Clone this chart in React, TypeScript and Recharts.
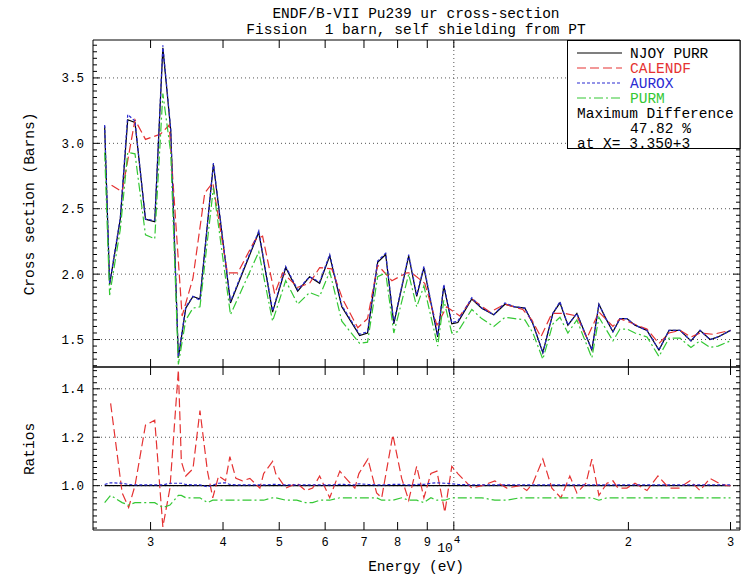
import React from "react";
import { LineChart, Line, XAxis, YAxis, ReferenceLine } from "recharts";

// Energy grid (eV) shared by NJOY PURR, AUROX and PURM
const xsEnergy = [
  2500, 2550, 2660, 2740, 2820, 2940, 3050, 3150, 3250, 3350, 3450, 3550, 3650, 3850, 4120, 4610,
  4870, 5130, 5380, 5640, 5870, 6110, 6410, 6880, 7100, 7390, 7630, 7880, 8360, 8630, 8880, 9380,
  9610, 9920, 10160, 10740, 11170, 11720, 12250, 12740, 13260, 13690, 14240, 14820, 15240, 15730,
  16300, 17300, 17790, 18290, 18810, 19340, 19880, 20530, 21530, 22580, 23500, 24550, 25640, 26580,
  27660, 28550, 30000,
];
const njoyXs = [
  3.13, 1.92, 2.42, 3.18, 3.16, 2.42, 2.4, 3.73, 3.1, 1.36, 1.74, 1.83, 1.81, 2.84, 1.78, 2.32,
  1.71, 2.05, 1.87, 1.98, 1.93, 2.14, 1.75, 1.53, 1.55, 2.09, 2.15, 1.62, 2.14, 1.83, 2.05, 1.52,
  1.91, 1.62, 1.63, 1.81, 1.74, 1.69, 1.77, 1.75, 1.74, 1.62, 1.4, 1.7, 1.78, 1.61,
  1.7, 1.42, 1.77, 1.66, 1.56, 1.66, 1.66, 1.61, 1.57, 1.42, 1.57, 1.57, 1.49, 1.57,
  1.5, 1.52, 1.57,
];
const auroxXs = [
  3.14, 1.93, 2.43, 3.22, 3.17, 2.42, 2.41, 3.75, 3.11, 1.37, 1.75, 1.83, 1.8, 2.85, 1.79, 2.33,
  1.72, 2.06, 1.88, 1.98, 1.94, 2.15, 1.76, 1.54, 1.56, 2.1, 2.16, 1.63, 2.15, 1.84, 2.06, 1.53,
  1.92, 1.63, 1.64, 1.82, 1.74, 1.69, 1.78, 1.75, 1.74, 1.62, 1.4, 1.7, 1.79, 1.61,
  1.7, 1.42, 1.77, 1.66, 1.56, 1.66, 1.66, 1.61, 1.57, 1.42, 1.57, 1.57, 1.49, 1.57,
  1.5, 1.52, 1.57,
];
const purmXs = [
  2.93, 1.84, 2.34, 2.93, 2.92, 2.3, 2.27, 3.38, 2.93, 1.31, 1.65, 1.74, 1.75, 2.66, 1.69, 2.17,
  1.64, 1.95, 1.77, 1.86, 1.83, 2.02, 1.64, 1.47, 1.48, 1.98, 2.01, 1.55, 2.0, 1.75, 1.91, 1.45,
  1.8, 1.55, 1.56, 1.73, 1.66, 1.6, 1.67, 1.66, 1.65, 1.55, 1.35, 1.62, 1.67, 1.55,
  1.65, 1.36, 1.67, 1.58, 1.49, 1.58, 1.58, 1.55, 1.52, 1.37, 1.51, 1.51, 1.44, 1.49,
  1.44, 1.45, 1.49,
];

// CALENDF has its own energy grid
const calendfEnergy = [
  2570, 2680, 2820, 2940, 3120, 3230, 3400, 3550, 3720, 3840, 4070, 4240, 4540, 4680, 4910, 5070,
  5380, 5640, 5870, 6160, 6430, 6830, 7100, 7390, 7820, 8300, 8460, 8910, 9350, 9720, 10240, 10740,
  11540, 12250, 13150, 13630, 14130, 14760, 15540, 16300, 16960, 17790, 18810, 19340, 21530, 22580,
  23500, 24550, 25640, 26580, 27990, 30000,
];
const calendfXs = [
  2.68, 2.63, 3.18, 3.03, 3.07, 3.14, 1.68, 1.97, 2.62, 2.7, 2.01, 2.01, 2.26, 2.29, 1.85, 2.01,
  1.9, 1.93, 2.05, 2.04, 1.81, 1.59, 1.66, 2.07, 1.95, 2.01, 2.01, 1.93, 1.61, 1.75, 1.68, 1.81,
  1.71, 1.77, 1.73, 1.65, 1.52, 1.7, 1.7, 1.68, 1.51, 1.71, 1.6, 1.66, 1.58, 1.47,
  1.55, 1.57, 1.52, 1.55, 1.54, 1.57,
];

// Ratios to NJOY PURR, on the union grid
const ratioEnergy = [
  2500, 2560, 2680, 2750, 2820, 2940, 3050, 3150, 3240, 3350, 3390, 3450, 3550, 3650, 3760, 3840,
  3930, 4040, 4110, 4210, 4320, 4450, 4630, 4700, 4870, 4930, 5130, 5360, 5550, 5710, 5870, 6110,
  6360, 6460, 6750, 6860, 7110, 7360, 7510, 7850, 8130, 8360, 8630, 8880, 9130, 9350, 9650, 9920,
  10160, 10740, 11180, 11770, 12340, 13000, 13360, 13690, 14240, 14760, 15300, 15850, 16300, 16900,
  17300, 17790, 18370, 18810, 19190, 19880, 20530, 21530, 22490, 23500, 24450, 25540, 26580, 27650,
  28660, 29590, 30000,
];
const calendfRatio = [
  null, 1.34, 0.97, 0.91, 1.0, 1.25, 1.27, 0.83, 0.99, 1.4782, 1.1, 1.04, 1.07, 1.31, 1.06, 0.95,
  1.04, 1.02, 1.12, 1.03, 1.02, 1.03, 0.99, 1.05, 1.1, 1.05, 0.99, 1.01, 0.98, 0.99, 1.04, 0.95,
  1.06, 1.04, 0.99, 1.05, 1.11, 0.97, 0.95, 1.21, 1.03, 0.94, 1.08, 0.95, 1.05, 1.06, 0.89, 1.08,
  1.05, 0.99, 1.0, 1.02, 0.99, 1.0, 0.98, 1.01, 1.11, 0.99, 0.95, 1.04, 0.97, 1.01,
  1.11, 0.96, 1.01, 1.02, 0.99, 0.99, 1.01, 0.98, 1.04, 0.99, 0.99, 1.02, 0.98, 1.03,
  1.01, 1.0, 1.0,
];
const auroxRatio = [
  1.005, 1.012, 1.01, 1.005, 1.003, 1.003, 1.003, 1.003, 1.01, 1.01, 1.01, 1.005, 1.003, 1.003, 0.995, 1.003,
  1.01, 1.012, 1.005, 1.003, 1.003, 1.003, 1.003, 1.003, 1.005, 1.005, 1.003, 1.003, 1.003, 1.003, 1.003, 1.003,
  1.005, 1.005, 1.003, 1.008, 1.005, 1.003, 1.003, 1.005, 1.005, 1.003, 1.005, 1.005, 1.01, 1.012, 1.01, 1.008,
  1.005, 1.003, 1.003, 1.003, 1.003, 1.003, 1.003, 1.003, 1.003, 1.003, 1.003, 1.003, 1.003, 1.003,
  1.003, 1.003, 1.003, 1.003, 1.003, 1.003, 1.003, 1.003, 1.003, 1.003, 1.003, 1.003, 1.003, 1.003,
  1.003, 1.003, 1.003,
];
const purmRatio = [
  0.93, 0.96, 0.93, 0.92, 0.93, 0.93, 0.93, 0.91, 0.92, 0.96, 0.96, 0.95, 0.95, 0.95, 0.93, 0.94,
  0.94, 0.94, 0.94, 0.94, 0.94, 0.94, 0.94, 0.94, 0.95, 0.95, 0.94, 0.94, 0.93, 0.93, 0.94, 0.94,
  0.95, 0.95, 0.95, 0.95, 0.95, 0.95, 0.94, 0.94, 0.95, 0.94, 0.94, 0.93, 0.95, 0.94, 0.94, 0.95,
  0.95, 0.95, 0.95, 0.94, 0.94, 0.95, 0.95, 0.95, 0.95, 0.95, 0.95, 0.95, 0.95, 0.95,
  0.95, 0.94, 0.95, 0.95, 0.95, 0.95, 0.95, 0.95, 0.95, 0.95, 0.95, 0.95, 0.95, 0.95,
  0.95, 0.95, 0.95,
];
const njoyRatioEnergy = [2500, 30000];
const njoyRatio = [1, 1];

// Axis ticks
const energyTicks = [3000, 4000, 5000, 6000, 7000, 8000, 9000, 10000, 20000, 30000];
const energyTickLabels = ["3", "4", "5", "6", "7", "8", "9", "10^4", "2", "3"];
const xsMajorTicks = [1.5, 2.0, 2.5, 3.0, 3.5];
const ratioMajorTicks = [1.0, 1.2, 1.4];

const X_DOMAIN: [number, number] = [2387, 31150];
const XS_DOMAIN: [number, number] = [1.29, 3.79];
const RATIO_DOMAIN: [number, number] = [0.817, 1.49];

const xsMinorTicks = Array.from({ length: 50 }, (_, i) => +(1.3 + i * 0.05).toFixed(3));
const ratioMinorTicks = Array.from({ length: 27 }, (_, i) => +(0.825 + i * 0.025).toFixed(3));

const FONT = "'Liberation Mono', 'DejaVu Sans Mono', monospace";
const RED = "#e53232";
const BLUE = "#2a2ad2";
const GREEN = "#34c834";
const GRID = "#555";

// plot box shared by both panels
const LEFT = 93;
const RIGHT = 740;

type Pt = { e: number; v: number | null };
const pairUp = (energies: number[], values: (number | null)[]): Pt[] =>
  energies.map((e, i) => ({ e, v: values[i] }));

const njoyPts = pairUp(xsEnergy, njoyXs);
const auroxPts = pairUp(xsEnergy, auroxXs);
const purmPts = pairUp(xsEnergy, purmXs);
const calendfPts = pairUp(calendfEnergy, calendfXs);
const calendfRatioPts = pairUp(ratioEnergy, calendfRatio);
const auroxRatioPts = pairUp(ratioEnergy, auroxRatio);
const purmRatioPts = pairUp(ratioEnergy, purmRatio);
const njoyRatioPts = pairUp(njoyRatioEnergy, njoyRatio);

function EnergyTick(props: any) {
  const { x, payload, dir, showLabel, axisY } = props;
  const y = axisY;
  const label = energyTickLabels[energyTicks.indexOf(payload.value)];
  let text = null;
  if (showLabel && label) {
    if (label.includes("^")) {
      const [base, exp] = label.split("^");
      text = (
        <g fontFamily={FONT} fill="#000">
          <text x={x - 1} y={y + 22} fontSize={13} textAnchor="end">{base}</text>
          <text x={x} y={y + 13} fontSize={11} textAnchor="start">{exp}</text>
        </g>
      );
    } else {
      text = (
        <text x={x} y={y + 16} fontSize={12} textAnchor="middle" fontFamily={FONT} fill="#000">
          {label}
        </text>
      );
    }
  }
  return (
    <g>
      <line x1={x} y1={y} x2={x} y2={y + dir * 8} stroke="#000" strokeWidth={1} />
      {text}
    </g>
  );
}

function ValueTick(props: any) {
  const { y, payload, dir, majors, showLabel, axisX } = props;
  const x = axisX;
  const v = payload.value as number;
  const isMajor = majors.some((m: number) => Math.abs(m - v) < 1e-6);
  const len = isMajor ? 7 : 4;
  return (
    <g>
      <line x1={x} y1={y} x2={x + dir * len} y2={y} stroke="#000" strokeWidth={1} />
      {showLabel && isMajor && (
        <text x={x - 9} y={y} dy="0.35em" fontSize={12.5} textAnchor="end" fontFamily={FONT} fill="#000">
          {v.toFixed(1)}
        </text>
      )}
    </g>
  );
}

const axisLine = { stroke: "#000", strokeWidth: 1 };

function energyAxes(top: number, bottom: number, labelBottom: boolean) {
  return [
    <XAxis
      key="b"
      xAxisId="b"
      type="number"
      dataKey="e"
      scale="log"
      domain={X_DOMAIN}
      allowDataOverflow
      ticks={energyTicks}
      interval={0}
      height={1}
      tickSize={0}
      tickMargin={0}
      tickLine={false}
      axisLine={axisLine}
      tick={(p: any) => <EnergyTick {...p} axisY={bottom} dir={-1} showLabel={labelBottom} />}
    />,
    <XAxis
      key="t"
      xAxisId="t"
      orientation="top"
      type="number"
      dataKey="e"
      scale="log"
      domain={X_DOMAIN}
      allowDataOverflow
      ticks={energyTicks}
      interval={0}
      height={1}
      tickSize={0}
      tickMargin={0}
      tickLine={false}
      axisLine={axisLine}
      tick={(p: any) => <EnergyTick {...p} axisY={top} dir={1} showLabel={false} />}
    />,
  ];
}

function valueAxes(domain: [number, number], ticks: number[], majors: number[]) {
  return [
    <YAxis
      key="l"
      yAxisId="l"
      type="number"
      domain={domain}
      allowDataOverflow
      ticks={ticks}
      interval={0}
      width={1}
      tickSize={0}
      tickMargin={0}
      tickLine={false}
      axisLine={axisLine}
      tick={(p: any) => <ValueTick {...p} axisX={LEFT} dir={1} majors={majors} showLabel />}
    />,
    <YAxis
      key="r"
      yAxisId="r"
      orientation="right"
      type="number"
      domain={domain}
      allowDataOverflow
      ticks={ticks}
      interval={0}
      width={1}
      tickSize={0}
      tickMargin={0}
      tickLine={false}
      axisLine={axisLine}
      tick={(p: any) => <ValueTick {...p} axisX={RIGHT} dir={-1} majors={majors} showLabel={false} />}
    />,
  ];
}

const lineBase = {
  xAxisId: "b",
  yAxisId: "l",
  dataKey: "v",
  type: "linear" as const,
  dot: false,
  activeDot: false,
  isAnimationActive: false,
  strokeWidth: 1.2,
};

function Panel({ top, bottom, xLabels, domain, ticks, majors, children }: any) {
  return (
    <LineChart
      width={754}
      height={582}
      margin={{ top: top - 1, right: 754 - RIGHT - 1, bottom: 582 - bottom - 1, left: LEFT - 1 }}
    >
      {energyAxes(top, bottom, xLabels)}
      {valueAxes(domain, ticks, majors)}
      {majors.map((v: number) => (
        <ReferenceLine key={v} xAxisId="b" yAxisId="l" y={v} stroke={GRID} strokeDasharray="1 3" />
      ))}
      <ReferenceLine xAxisId="b" yAxisId="l" x={10000} stroke={GRID} strokeDasharray="1 3" />
      {children}
    </LineChart>
  );
}

function CrossSectionPanel() {
  return (
    <Panel top={40} bottom={367} xLabels={false} domain={XS_DOMAIN} ticks={xsMinorTicks} majors={xsMajorTicks}>
      <Line {...lineBase} data={njoyPts} stroke="#000" name="NJOY PURR" />
      <Line {...lineBase} data={calendfPts} stroke={RED} strokeDasharray="9 4" name="CALENDF" />
      <Line {...lineBase} data={auroxPts} stroke={BLUE} strokeDasharray="3 2" name="AUROX" />
      <Line {...lineBase} data={purmPts} stroke={GREEN} strokeDasharray="9 3 2 3" name="PURM" />
    </Panel>
  );
}

function RatioPanel() {
  return (
    <Panel top={367} bottom={530} xLabels domain={RATIO_DOMAIN} ticks={ratioMinorTicks} majors={ratioMajorTicks}>
      <Line {...lineBase} data={njoyRatioPts} stroke="#000" />
      <Line {...lineBase} data={calendfRatioPts} stroke={RED} strokeDasharray="9 4" />
      <Line {...lineBase} data={auroxRatioPts} stroke={BLUE} strokeDasharray="3 2" />
      <Line {...lineBase} data={purmRatioPts} stroke={GREEN} strokeDasharray="9 3 2 3" />
    </Panel>
  );
}

const legendRows = [
  { label: "NJOY PURR", color: "#000", dash: undefined },
  { label: "CALENDF", color: RED, dash: "9 4" },
  { label: "AUROX", color: BLUE, dash: "3 2" },
  { label: "PURM", color: GREEN, dash: "9 3 2 3" },
];

function Annotations() {
  const rowY = (i: number) => 53 + i * 15;
  return (
    <svg
      width={754}
      height={582}
      style={{ position: "absolute", left: 0, top: 0, pointerEvents: "none" }}
    >
      <g fontFamily={FONT} fill="#000" fontSize={14.5}>
        <text x={416} y={18} textAnchor="middle">ENDF/B-VII Pu239 ur cross-section</text>
        <text x={416} y={34} textAnchor="middle">{"Fission\u00a0 1 barn, self shielding from PT"}</text>
        <text x={416} y={571} textAnchor="middle">Energy (eV)</text>
        <text x={30} y={204} textAnchor="middle" dominantBaseline="central" transform="rotate(-90 30 204)">
          Cross section (Barns)
        </text>
        <text x={30} y={449} textAnchor="middle" dominantBaseline="central" transform="rotate(-90 30 449)">
          Ratios
        </text>
      </g>
      <rect x={567.5} y={40.5} width={172.5} height={108} fill="#fff" stroke="#000" strokeWidth={1} />
      <g fontFamily={FONT} fontSize={14.5}>
        {legendRows.map((r, i) => (
          <g key={r.label}>
            <line x1={577} x2={622} y1={rowY(i)} y2={rowY(i)} stroke={r.color} strokeWidth={1.2} strokeDasharray={r.dash} />
            <text x={630} y={rowY(i) + 5} fill={r.color}>{r.label}</text>
          </g>
        ))}
        <text x={577} y={rowY(4) + 5} fill="#000">Maximum Difference</text>
        <text x={630} y={rowY(5) + 5} fill="#000">47.82 %</text>
        <text x={577} y={rowY(6) + 5} fill="#000">at X= 3.350+3</text>
      </g>
    </svg>
  );
}

export default function App() {
  return (
    <div style={{ position: "absolute", left: 0, top: 0, width: 754, height: 582, background: "#fff" }}>
      <div style={{ position: "absolute", left: 0, top: 0 }}>
        <CrossSectionPanel />
      </div>
      <div style={{ position: "absolute", left: 0, top: 0 }}>
        <RatioPanel />
      </div>
      <Annotations />
    </div>
  );
}
